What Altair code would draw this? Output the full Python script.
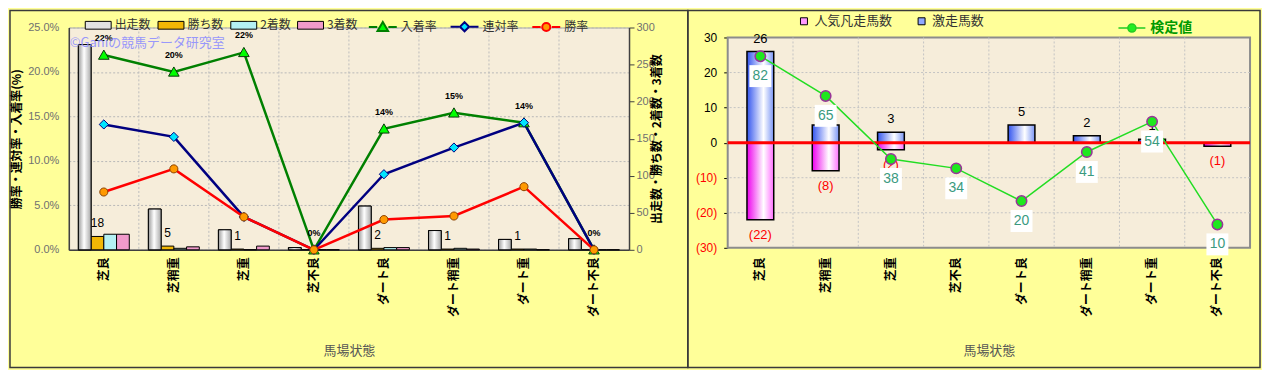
import altair as alt
import pandas as pd

FONT = "Noto Sans CJK JP"
NUMFONT = "Liberation Sans"

# ---------------- data ----------------
cats = ["芝良", "芝稍重", "芝重", "芝不良", "ダート良", "ダート稍重", "ダート重", "ダート不良"]

# left panel
bar_series = ["出走数", "勝ち数", "2着数", "3着数"]
starts = [277, 55, 27, 3, 59, 26, 14, 15]
wins = [18, 5, 1, 0, 2, 1, 1, 0]
seconds = [21, 2, 0, 0, 3, 2, 1, 0]
thirds = [21, 4, 5, 0, 3, 1, 0, 0]

line_series = ["入着率", "連対率", "勝率"]
nyuchaku_rate = [21.9, 20.0, 22.2, 0.0, 13.6, 15.4, 14.3, 0.0]
rentai_rate = [14.1, 12.7, 3.7, 0.0, 8.5, 11.5, 14.3, 0.0]
win_rate = [6.5, 9.1, 3.7, 0.0, 3.4, 3.8, 7.1, 0.0]

rate_ticks = [0, 5, 10, 15, 20, 25]
count_ticks = [0, 50, 100, 150, 200, 250, 300]

# right panel
right_series = ["人気凡走馬数", "激走馬数"]
kentei_series = ["検定値"]
gekisou = [26, 5, 3, 0, 5, 2, 1, 0]
bonsou = [-22, -8, -2, 0, 0, 0, 0, -1]
kentei = [82, 65, 38, 34, 20, 41, 54, 10]
diff_ticks = [-30, -20, -10, 0, 10, 20, 30]
diff_grid = [-20, -10, 10, 20]

watermark = "©Ganiの競馬データ研究室"

# ---------------- styles ----------------
bar_colors = ["#E2E2E2", "#F2B705", "#B4F0F4", "#F09ACB"]
line_colors = ["#008000", "#000080", "#FF0000"]
marker_fills = ["#00FF00", "#00E5FF", "#FF9900"]
marker_strokes = ["#0A3A0A", "#000080", "#8A4000"]
marker_paths = [
    "M0,-0.36L0.38,0.3L-0.38,0.3Z",
    "M0,-0.33L0.33,0L0,0.33L-0.33,0Z",
    "M-0.29,0A0.29,0.29 0 1,0 0.29,0A0.29,0.29 0 1,0 -0.29,0Z",
]
legend_paths = ["M-1,0L-0.4,0M0.4,0L1,0" + p for p in marker_paths]
right_colors = ["#FF99FF", "#8FA8FF"]
kentei_legend_path = "M-1,0L-0.32,0M0.32,0L1,0M-0.3,0A0.3,0.3 0 1,0 0.3,0A0.3,0.3 0 1,0 -0.3,0Z"

PLOT_BG = "#F6EDDA"
PANEL_BG = "#FFFF99"


def grad(c1, c2, c3, mid):
    return alt.LinearGradient(
        gradient="linear",
        stops=[alt.GradientStop(color=c1, offset=0), alt.GradientStop(color=c2, offset=mid),
               alt.GradientStop(color=c3, offset=1)],
        x1=0, x2=1, y1=0, y2=0)


grad_white = grad("#9A9A9A", "#FFFFFF", "#A8A8A8", 0.45)
grad_blue = grad("#3355EE", "#FFFFFF", "#7A95F5", 0.62)
grad_pink = grad("#EE00EE", "#FFFFFF", "#FF70FF", 0.62)

# ---------------- tables ----------------
bar_df = pd.DataFrame({
    "cat": cats * 4,
    "series": sum([[s] * len(cats) for s in bar_series], []),
    "value": starts + wins + seconds + thirds,
})
rate_df = pd.DataFrame({
    "cat": cats * 3,
    "rseries": sum([[s] * len(cats) for s in line_series], []),
    "rate": nyuchaku_rate + rentai_rate + win_rate,
})
cat_df = pd.DataFrame({"cat": cats})
one = pd.DataFrame({"k": [0]})
right_df = pd.DataFrame({"cat": cats, "geki": gekisou, "bon": bonsou, "kentei": kentei})

# ================= LEFT PANEL =================
W1, H1 = 562, 223


def x_left(**kw):
    return alt.X("cat:N", sort=cats, title="馬場状態",
                 scale=alt.Scale(paddingInner=0, paddingOuter=0),
                 axis=alt.Axis(labelAngle=270, labelFontWeight="bold", labelColor="black",
                               labelFontSize=12, labelPadding=7, ticks=False, grid=False,
                               domainColor="#404040", domainWidth=1.5,
                               titleColor="#555555", titleFontSize=13, titleFontWeight="normal",
                               titlePadding=28), **kw)


xoff = alt.XOffset("series:N", sort=bar_series,
                   scale=alt.Scale(domain=bar_series, paddingInner=0, paddingOuter=0.75))


def y_bar():
    return alt.Y("value:Q", title="出走数・勝ち数・2着数・3着数",
                 scale=alt.Scale(domain=[0, 300], nice=False),
                 axis=alt.Axis(orient="right", values=count_ticks, grid=False,
                               tickSize=5, tickColor="#404040", labelColor="#707070", labelFontSize=11,
                               labelFont=NUMFONT, labelPadding=2, domainColor="#404040", domainWidth=1.5,
                               titleAngle=270, titleFontWeight="bold", titleColor="black",
                               titleFontSize=12, titlePadding=9))


def y_rate():
    return alt.Y("rate:Q", title="勝率・連対率・入着率(%)",
                 scale=alt.Scale(domain=[0, 25], nice=False),
                 axis=alt.Axis(orient="left", values=rate_ticks,
                               labelExpr="format(datum.value, '.1f') + '%'",
                               ticks=False, labelPadding=10, labelColor="#707070", labelFontSize=11,
                               labelFont=NUMFONT,
                               grid=True, gridDash=[2, 2], gridColor="#B8B8B8",
                               domainColor="#404040", domainWidth=1.5,
                               titleAngle=270, titleFontWeight="bold", titleColor="black",
                               titleFontSize=12, titlePadding=4))


border_left = alt.Chart(one).mark_rect(fillOpacity=0, stroke="#3A3A3A", strokeWidth=1.5).encode(
    x=alt.value(-59), x2=alt.value(621), y=alt.value(-17), y2=alt.value(341))

vgrid_left = alt.Chart(cat_df).transform_filter(alt.datum.cat != cats[0]).mark_rule(
    color="#BDBDBD", strokeDash=[2, 2], strokeWidth=1).encode(x=x_left(bandPosition=0))

bar_legend = alt.Legend(title=None, orient="none", legendX=16, legendY=-16, direction="horizontal",
                        symbolType="M-1,-0.3L1,-0.3L1,0.3L-1,0.3Z", symbolSize=676,
                        symbolStrokeColor="black", symbolStrokeWidth=1,
                        labelFontSize=12, labelColor="#333333", labelOffset=3,
                        columnPadding=4, padding=0)

bars = alt.Chart(bar_df).mark_bar(stroke="black", strokeWidth=1).encode(
    x=x_left(), xOffset=xoff, y=y_bar(),
    fill=alt.Fill("series:N", sort=bar_series,
                  scale=alt.Scale(domain=bar_series, range=bar_colors), legend=bar_legend))

bars_grad = alt.Chart(bar_df).transform_filter(alt.datum.series == bar_series[0]).mark_bar(
    fill=grad_white, stroke="black", strokeWidth=1).encode(x=x_left(), xOffset=xoff, y=y_bar())

bar_labels = alt.Chart(bar_df).transform_filter(
    (alt.datum.series == bar_series[1]) & (alt.datum.value > 0)).mark_text(
    baseline="bottom", dy=-6, fontSize=12, font=NUMFONT, color="black").encode(
    x=x_left(), xOffset=xoff, y=y_bar(), text="value:Q")

bars_group = alt.layer(border_left, vgrid_left, bars, bars_grad, bar_labels)

line_layers = []
for i, s in enumerate(line_series):
    line_layers.append(
        alt.Chart(rate_df).transform_filter(alt.datum.rseries == s).mark_line(
            color=line_colors[i], strokeWidth=2.5).encode(x=x_left(), y=y_rate()))
point_layers = []
for i, s in enumerate(line_series):
    point_layers.append(
        alt.Chart(rate_df).transform_filter(alt.datum.rseries == s).mark_point(
            shape=marker_paths[i], size=784, filled=True, fill=marker_fills[i],
            stroke=marker_strokes[i], strokeWidth=1, opacity=1).encode(x=x_left(), y=y_rate()))

nyu_labels = alt.Chart(rate_df).transform_filter(alt.datum.rseries == line_series[0]).transform_calculate(
    lbl="format(datum.rate / 100, '.0%')").mark_text(
    dy=-17, fontSize=9, fontWeight="bold", font=NUMFONT, color="black").encode(
    x=x_left(), y=y_rate(), text="lbl:N")

line_legend = alt.Legend(title=None, orient="none", legendX=300, legendY=-16, direction="horizontal",
                         symbolSize=784, symbolStrokeWidth=2, labelFontSize=12, labelColor="#333333",
                         labelOffset=3, columnPadding=9, padding=0)
line_legend_layer = alt.Chart(pd.DataFrame({"lseries": line_series})).transform_filter("false").mark_point(
    filled=True, size=784, strokeWidth=2, opacity=1).encode(
    color=alt.Color("lseries:N", sort=line_series,
                    scale=alt.Scale(domain=line_series, range=marker_fills), legend=line_legend),
    stroke=alt.Stroke("lseries:N", sort=line_series,
                      scale=alt.Scale(domain=line_series, range=line_colors), legend=line_legend),
    shape=alt.Shape("lseries:N", sort=line_series,
                    scale=alt.Scale(domain=line_series, range=legend_paths), legend=line_legend))

wm = alt.Chart(one).mark_text(text=watermark, align="left", baseline="middle", fontSize=13,
                              color="#8F8FFF", opacity=0.9).encode(x=alt.value(1), y=alt.value(16))

lines_group = alt.layer(*line_layers, *point_layers, nyu_labels, line_legend_layer, wm)

left = alt.layer(bars_group, lines_group).resolve_scale(y="independent").properties(
    width=W1, height=H1, view=alt.ViewBackground(fill=PLOT_BG, stroke="#A8A8A8"))

# ================= RIGHT PANEL =================
W2, H2 = 524, 221


def x_right(**kw):
    return alt.X("cat:N", sort=cats, title="馬場状態",
                 scale=alt.Scale(paddingInner=0, paddingOuter=0),
                 axis=alt.Axis(labelAngle=270, labelFontWeight="bold", labelColor="black",
                               labelFontSize=12, labelPadding=9, ticks=False, grid=False, domain=False,
                               titleColor="#555555", titleFontSize=13, titleFontWeight="normal",
                               titlePadding=28), **kw)


yscale_r = alt.Scale(domain=[-30, 32.844], nice=False, zero=False)
yaxis_r = alt.Axis(values=diff_ticks,
                   labelExpr="datum.value < 0 ? '(' + (-datum.value) + ')' : '' + datum.value",
                   labelColor={"condition": {"test": "datum.value < 0", "value": "#FF0000"}, "value": "black"},
                   labelFontSize=12, labelFont=NUMFONT, tickSize=4, tickColor="black", labelPadding=7,
                   domain=False, grid=False)


def y_r(field=None, datum=None):
    if field is not None:
        return alt.Y(field, scale=yscale_r, axis=yaxis_r, title=None)
    return alt.Y(datum=datum, scale=yscale_r, axis=yaxis_r, title=None)


border_right = alt.Chart(one).mark_rect(fillOpacity=0, stroke="#3A3A3A", strokeWidth=1.5).encode(
    x=alt.value(-40), x2=alt.value(534), y=alt.value(-17), y2=alt.value(341))

bg_r = alt.Chart(one).mark_rect(fill=PLOT_BG, stroke="#8C8C8C", strokeWidth=2).encode(
    x=alt.value(0), x2=alt.value(W2), y=y_r(datum=diff_ticks[-1]), y2=alt.Y2(datum=diff_ticks[0]))

hgrid_r = alt.Chart(pd.DataFrame({"g": diff_grid})).mark_rule(
    color="#C4C4C4", strokeDash=[2, 2]).encode(y=y_r("g:Q"))

vgrid_r = alt.Chart(cat_df).transform_filter(alt.datum.cat != cats[0]).mark_rule(
    color="#C4C4C4", strokeDash=[2, 2]).encode(
    x=x_right(bandPosition=0), y=y_r(datum=diff_ticks[-1]), y2=alt.Y2(datum=diff_ticks[0]))

bars_geki = alt.Chart(right_df).transform_filter(alt.datum.geki != 0).mark_bar(
    fill=grad_blue, stroke="black", strokeWidth=1.5, width=alt.RelativeBandSize(0.41)).encode(
    x=x_right(), y=y_r("geki:Q"))
bars_bon = alt.Chart(right_df).transform_filter(alt.datum.bon != 0).mark_bar(
    fill=grad_pink, stroke="black", strokeWidth=1.5, width=alt.RelativeBandSize(0.41)).encode(
    x=x_right(), y=y_r("bon:Q"))

lab_geki = alt.Chart(right_df).transform_filter(alt.datum.geki > 0).mark_text(
    baseline="middle", dy=-13, fontSize=13, font=NUMFONT, color="black").encode(
    x=x_right(), y=y_r("geki:Q"), text="geki:Q")
lab_bon = alt.Chart(right_df).transform_filter(alt.datum.bon < 0).transform_calculate(
    lbl="'(' + (-datum.bon) + ')'").mark_text(
    baseline="middle", dy=15, fontSize=13, font=NUMFONT, color="#FF0000").encode(
    x=x_right(), y=y_r("bon:Q"), text="lbl:N")

zero_rule = alt.Chart(one).mark_rule(color="#FF0000", strokeWidth=3).encode(y=y_r(datum=0))

r_legend = alt.Legend(title=None, orient="none", legendX=70, legendY=-13, direction="horizontal",
                      symbolType="square", symbolSize=49, symbolStrokeColor="black", symbolStrokeWidth=1,
                      labelFontSize=13, labelColor="#333333", labelOffset=4, columnPadding=22, padding=0)
r_legend_layer = alt.Chart(pd.DataFrame({"bs": right_series})).transform_filter("false").mark_point(
    shape="square", filled=True, size=49, stroke="black", strokeWidth=1, opacity=1).encode(
    fill=alt.Fill("bs:N", sort=right_series,
                  scale=alt.Scale(domain=right_series, range=right_colors), legend=r_legend))

k_legend = alt.Legend(title=None, orient="none", legendX=391, legendY=-14, direction="horizontal",
                      symbolSize=729, symbolStrokeWidth=1.5, labelFontSize=14, labelFontWeight="bold",
                      labelColor="#009A00", labelOffset=4, padding=0)
k_legend_layer = alt.Chart(pd.DataFrame({"ks": kentei_series})).transform_filter("false").mark_point(
    filled=True, size=729, strokeWidth=1.5, opacity=1).encode(
    color=alt.Color("ks:N", scale=alt.Scale(domain=kentei_series, range=["#22EE22"]), legend=k_legend),
    stroke=alt.Stroke("ks:N", scale=alt.Scale(domain=kentei_series, range=["#22CC22"]), legend=k_legend),
    shape=alt.Shape("ks:N", scale=alt.Scale(domain=kentei_series, range=[kentei_legend_path]), legend=k_legend))

main_r = alt.layer(border_right, bg_r, hgrid_r, vgrid_r, bars_geki, bars_bon, lab_geki, lab_bon,
                   zero_rule, r_legend_layer, k_legend_layer)

ky = alt.Y("kentei:Q", scale=alt.Scale(domain=[0, 94.266], nice=False, zero=False), axis=None)
k_line = alt.Chart(right_df).mark_line(color="#22DD22", strokeWidth=1.5).encode(x=x_right(), y=ky)
k_box = alt.Chart(right_df).mark_point(shape="M-1,-1L1,-1L1,1L-1,1Z", size=484, filled=True,
                                       fill="white", strokeOpacity=0, opacity=1, yOffset=20).encode(
    x=x_right(), y=ky)
k_text = alt.Chart(right_df).mark_text(dy=20, fontSize=14, font=NUMFONT, color="#3A9A7F").encode(
    x=x_right(), y=ky, text="kentei:Q")
k_pts = alt.Chart(right_df).mark_point(shape="circle", size=110, filled=True, fill="#1EE81E",
                                       stroke="#993399", strokeWidth=1.5, opacity=1).encode(
    x=x_right(), y=ky)
kentei_group = alt.layer(k_line, k_box, k_text, k_pts)

right = alt.layer(main_r, kentei_group).resolve_scale(y="independent").properties(
    width=W2, height=H2, view=alt.ViewBackground(fill="transparent", stroke="transparent"))

chart = alt.hconcat(left, right, spacing=99, bounds="flush").resolve_scale(
    x="independent", y="independent", fill="independent", color="independent",
    stroke="independent", shape="independent").properties(padding=0).configure(
    background=PANEL_BG, font=FONT)

chart.save("out.html", embed_options={"renderer": "svg", "actions": False})
